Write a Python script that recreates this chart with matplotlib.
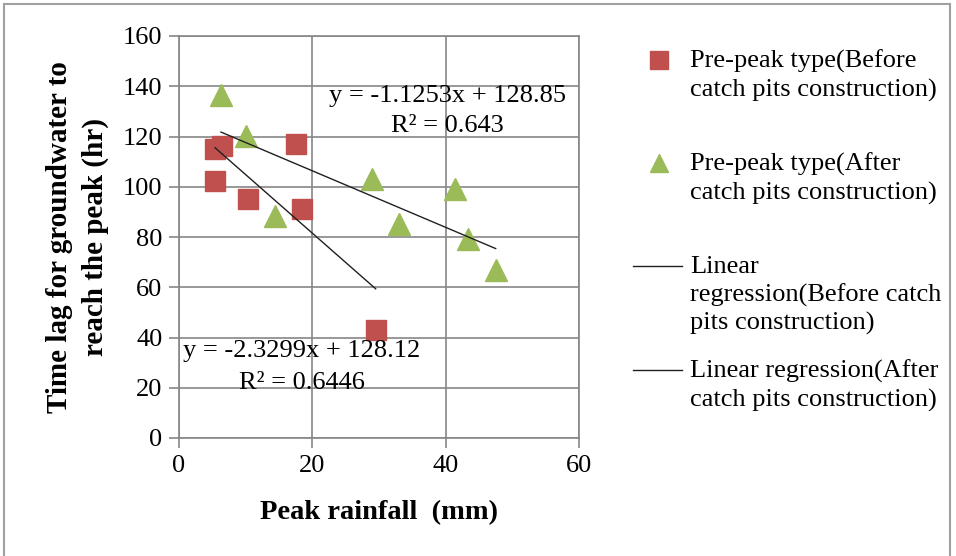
import matplotlib.pyplot as plt
import numpy as np
from matplotlib.lines import Line2D
from matplotlib.patches import Rectangle

plt.rcParams['font.family'] = ['Liberation Serif', 'DejaVu Serif']

# Pre-peak type, before catch pits construction
before_x = [5.4, 6.4, 5.4, 10.4, 17.5, 18.5, 29.5]
before_y = [114.9, 116.3, 102.3, 95.2, 117.2, 91.2, 42.8]

# Pre-peak type, after catch pits construction
after_x = [6.3, 10.0, 14.4, 29.0, 33.0, 41.4, 43.4, 47.5]
after_y = [136.5, 120.3, 88.5, 103.2, 85.2, 99.2, 79.2, 66.9]

# trendline coefficients shown on the chart
before_fit = (-2.3299, 128.12)
after_fit = (-1.1253, 128.85)

labels = ["Pre-peak type(Before\ncatch pits construction)",
          "Pre-peak type(After\ncatch pits construction)",
          "Linear\nregression(Before catch\npits construction)",
          "Linear regression(After\ncatch pits construction)"]

red = '#C0504D'
green = '#9BBB59'
grid_col = '#868686'
fs = 19

fig = plt.figure(figsize=(9.56, 5.56), dpi=100)
ax = fig.add_axes([179 / 956, 1 - 438 / 556, 400 / 956, 402 / 556])

ax.plot(before_x, before_y, linestyle='none', marker='s', ms=14.4, color=red, zorder=3)
ax.plot(after_x, after_y, linestyle='none', marker='^', ms=16, color=green, zorder=3)

for xs, (m, b) in [(before_x, before_fit), (after_x, after_fit)]:
    xx = np.array([min(xs), max(xs)])
    ax.plot(xx, m * xx + b, color='#202020', lw=1.0, zorder=4)

ax.text(40.3, 136, "y = -1.1253x + 128.85", ha='center', va='center', fontsize=fs, zorder=5)
ax.text(40.3, 124, "R² = 0.643", ha='center', va='center', fontsize=fs, zorder=5)
ax.text(18.4, 34.5, "y = -2.3299x + 128.12", ha='center', va='center', fontsize=fs, zorder=5)
ax.text(18.4, 22, "R² = 0.6446", ha='center', va='center', fontsize=fs, zorder=5)

ax.set_xlim(0, 60)
ax.set_ylim(0, 160)
ax.set_xticks([0, 20, 40, 60])
ax.set_yticks(range(0, 161, 20))
ax.grid(True, color=grid_col, lw=1.2)
ax.set_axisbelow(True)
for s in ax.spines.values():
    s.set_color(grid_col)
    s.set_linewidth(1.2)
ax.tick_params(direction='out', length=7, width=1.2, color=grid_col, labelsize=fs, pad=5)

ax.set_xlabel("Peak rainfall  (mm)", fontsize=20.5, fontweight='bold', labelpad=17)
ax.set_ylabel("Time lag for groundwater to\nreach the peak (hr)", fontsize=21,
              fontweight='bold', labelpad=10, linespacing=1.4)

# legend drawn in figure pixels, handle aligned with first text line
W, H = 956, 556
entries = [('s', red, 13, 60), ('^', green, 12.5, 163), ('-', 'k', 0, 266), ('-', 'k', 0, 370)]
for (mk, col, ms, ypx), lab in zip(entries, labels):
    yf = 1 - ypx / H
    if mk == '-':
        fig.add_artist(Line2D([633 / W, 682 / W], [yf, yf], color='#202020', lw=1.0))
    else:
        fig.add_artist(Line2D([659 / W], [yf], marker=mk, ms=ms, color=col, linestyle='none'))
    fig.text(690 / W, 1 - (ypx - 10) / H, lab, ha='left', va='top', fontsize=fs, linespacing=1.3)

fig.add_artist(Rectangle((4 / W, -0.02), 946 / W, 1 - 4 / H + 0.02, transform=fig.transFigure,
                         fill=False, edgecolor='#A0A0A0', lw=1.5))

fig.savefig('out.png', dpi=100)
